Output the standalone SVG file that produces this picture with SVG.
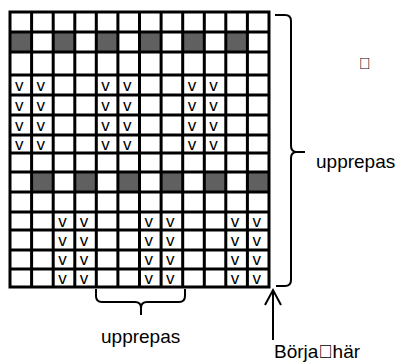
<svg xmlns="http://www.w3.org/2000/svg" width="400" height="363" viewBox="0 0 400 363">
<style>
.dk{fill:#606060}
.gl{fill:none;stroke:#000;stroke-width:3}
.v{font-family:"Liberation Sans",Arial,sans-serif;font-size:17px;fill:#000}
.br{fill:none;stroke:#000;stroke-width:2}
.lbl{font-family:"Liberation Sans",Arial,sans-serif;font-size:19px;fill:#000}
.sym{font-family:"Liberation Sans",Arial,sans-serif;font-size:16px;fill:#000}
</style>
<rect width="400" height="363" fill="#fff"/>
<g id="grid">
<g id="dark-row-2">
<rect class="dk" x="10" y="32" width="21.6" height="20"/>
<rect class="dk" x="53.2" y="32" width="21.6" height="20"/>
<rect class="dk" x="96.3" y="32" width="21.6" height="20"/>
<rect class="dk" x="139.5" y="32" width="21.6" height="20"/>
<rect class="dk" x="182.7" y="32" width="21.6" height="20"/>
<rect class="dk" x="225.8" y="32" width="21.6" height="20"/>
</g>
<g id="dark-row-9">
<rect class="dk" x="31.6" y="172" width="21.6" height="20"/>
<rect class="dk" x="74.8" y="172" width="21.6" height="20"/>
<rect class="dk" x="117.9" y="172" width="21.6" height="20"/>
<rect class="dk" x="161.1" y="172" width="21.6" height="20"/>
<rect class="dk" x="204.3" y="172" width="21.6" height="20"/>
<rect class="dk" x="247.4" y="172" width="21.6" height="20"/>
</g>
<path class="gl" d="M10,12V287M31.6,12V287M53.2,12V287M74.8,12V287M96.3,12V287M117.9,12V287M139.5,12V287M161.1,12V287M182.7,12V287M204.3,12V287M225.8,12V287M247.4,12V287M269,12V287
M8.5,12H270.5M10,32H269M10,52H269M10,75H269M10,95H269M10,115H269M10,135H269M10,153H269M10,172H269M10,192H269M10,212H269M10,230H269M10,250H269M10,269H269M8.5,287H270.5"/>
<g id="v-upper">
<text class="v" x="15" y="90.5">v</text><text class="v" x="36.6" y="90.5">v</text><text class="v" x="101.3" y="90.5">v</text><text class="v" x="122.9" y="90.5">v</text><text class="v" x="187.7" y="90.5">v</text><text class="v" x="209.3" y="90.5">v</text>
<text class="v" x="15" y="110.5">v</text><text class="v" x="36.6" y="110.5">v</text><text class="v" x="101.3" y="110.5">v</text><text class="v" x="122.9" y="110.5">v</text><text class="v" x="187.7" y="110.5">v</text><text class="v" x="209.3" y="110.5">v</text>
<text class="v" x="15" y="130.5">v</text><text class="v" x="36.6" y="130.5">v</text><text class="v" x="101.3" y="130.5">v</text><text class="v" x="122.9" y="130.5">v</text><text class="v" x="187.7" y="130.5">v</text><text class="v" x="209.3" y="130.5">v</text>
<text class="v" x="15" y="149.5">v</text><text class="v" x="36.6" y="149.5">v</text><text class="v" x="101.3" y="149.5">v</text><text class="v" x="122.9" y="149.5">v</text><text class="v" x="187.7" y="149.5">v</text><text class="v" x="209.3" y="149.5">v</text>
</g>
<g id="v-lower">
<text class="v" x="58.2" y="226.5">v</text><text class="v" x="79.8" y="226.5">v</text><text class="v" x="144.5" y="226.5">v</text><text class="v" x="166.1" y="226.5">v</text><text class="v" x="230.8" y="226.5">v</text><text class="v" x="252.4" y="226.5">v</text>
<text class="v" x="58.2" y="245.5">v</text><text class="v" x="79.8" y="245.5">v</text><text class="v" x="144.5" y="245.5">v</text><text class="v" x="166.1" y="245.5">v</text><text class="v" x="230.8" y="245.5">v</text><text class="v" x="252.4" y="245.5">v</text>
<text class="v" x="58.2" y="264.5">v</text><text class="v" x="79.8" y="264.5">v</text><text class="v" x="144.5" y="264.5">v</text><text class="v" x="166.1" y="264.5">v</text><text class="v" x="230.8" y="264.5">v</text><text class="v" x="252.4" y="264.5">v</text>
<text class="v" x="58.2" y="283.5">v</text><text class="v" x="79.8" y="283.5">v</text><text class="v" x="144.5" y="283.5">v</text><text class="v" x="166.1" y="283.5">v</text><text class="v" x="230.8" y="283.5">v</text><text class="v" x="252.4" y="283.5">v</text>
</g>
</g>
<g id="connectors">
<path class="br" d="M275,15H285Q291,15 291,21V146Q291,152 297,152H305M297,152Q291,152 291,158V280Q291,286 285,286H276"/>
<path class="br" d="M96,289V296Q96,302 102,302H135Q141,302 141,308V315M141,308Q141,302 147,302H179Q185,302 185,296V289"/>
<path class="br" d="M273,340V290M265,305L273,290L281,305"/>
</g>
<g id="labels">
<text class="sym" x="359" y="69">&#xF020;</text>
<text class="lbl" x="316" y="168">upprepas</text>
<text class="lbl" x="101" y="343">upprepas</text>
<text class="lbl" x="274" y="358">Börja&#xF020;här</text>
</g>
</svg>
